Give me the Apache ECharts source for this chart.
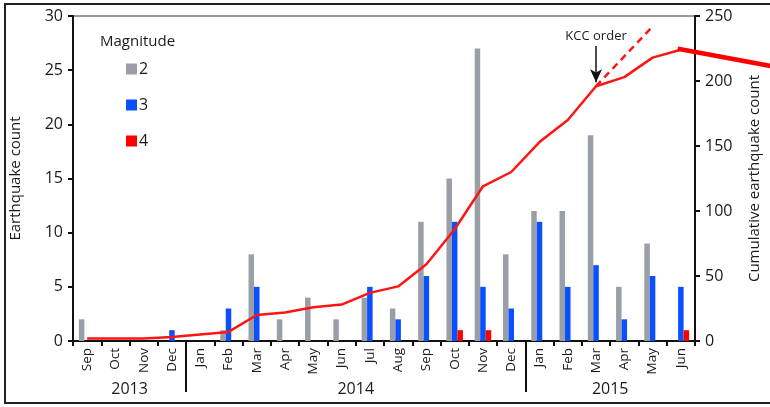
<!DOCTYPE html>
<html>
<head>
<meta charset="utf-8">
<script src="https://cdn.jsdelivr.net/npm/echarts@6/dist/echarts.min.js"></script>
<style>
  html, body { margin: 0; padding: 0; background: #ffffff; }
  #chart { width: 770px; height: 407px; }
</style>
</head>
<body>
<div id="chart"></div>
<script>
// Monthly earthquake counts by magnitude, Sep 2013 - Jun 2015
const months = ['Sep','Oct','Nov','Dec',
  'Jan','Feb','Mar','Apr','May','Jun','Jul','Aug','Sep','Oct','Nov','Dec',
  'Jan','Feb','Mar','Apr','May','Jun'];
const years = ['2013', '2014', '2015'];
const yearCenters = [2, 10, 19];      // middle of each year's month span
const yearBreaks = [4, 16];           // boundaries between years

const mag2 = [2,0,0,0, 0,1,8,2,4,2,4,3,11,15,27,8, 12,12,19,5,9,0];
const mag3 = [0,0,0,1, 0,3,5,0,0,0,5,2,6,11,5,3, 11,5,7,2,6,5];
const mag4 = [0,0,0,0, 0,0,0,0,0,0,0,0,0,1,1,0, 0,0,0,0,0,1];
const cumulative = [2,2,2,3, 5,7,20,22,26,28,37,42,59,86,119,130, 153,170,196,203,218,224];
// projected trend had the rate continued after the order (Mar -> May 2015)
const projected = [null,null,null,null, null,null,null,null,null,null,null,null,null,null,null,null, null,null,196,null,242,null];

const leftTicks = { min: 0, max: 30, interval: 5 };
const rightTicks = { min: 0, max: 250, interval: 50 };

const FONT = 'Open Sans';
const INK = '#1a1a1a';

const chart = echarts.init(document.getElementById('chart'));

const axisLineStyle = { color: '#111', width: 2 };

chart.setOption({
  backgroundColor: '#ffffff',
  textStyle: { fontFamily: FONT, color: INK },
  animation: false,
  title: {
    text: 'Magnitude',
    left: 95, top: 29,
    textStyle: { fontFamily: FONT, fontSize: 15, fontWeight: 'normal', color: INK }
  },
  legend: {
    orient: 'vertical',
    left: 121, top: 56,
    itemWidth: 11, itemHeight: 11, itemGap: 20,
    icon: 'rect',
    textStyle: { fontFamily: FONT, fontSize: 16, color: INK, padding: [0, 0, 0, -3] },
    data: ['2', '3', '4']
  },
  grid: {
    left: 72, right: 67, top: 16, bottom: 66,
    show: true, borderColor: '#333', borderWidth: 1
  },
  xAxis: [
    {
      type: 'category',
      data: months,
      position: 'bottom',
      axisLine: { lineStyle: axisLineStyle },
      axisTick: { show: true, length: 5, lineStyle: { color: '#111', width: 2 } },
      axisLabel: { rotate: 90, fontSize: 13.5, margin: 7, color: INK, interval: 0 }
    },
    {
      type: 'value',
      min: 0, max: months.length,
      position: 'bottom',
      axisLine: { show: false },
      splitLine: { show: false },
      axisTick: {
        show: true, length: 51, customValues: yearBreaks,
        lineStyle: { color: '#111', width: 2 }
      },
      axisLabel: {
        customValues: yearCenters,
        margin: 40, fontSize: 16, color: INK,
        formatter: v => years[yearCenters.indexOf(v)] || ''
      }
    }
  ],
  yAxis: [
    {
      type: 'value',
      min: leftTicks.min, max: leftTicks.max, interval: leftTicks.interval,
      name: 'Earthquake count',
      nameLocation: 'middle', nameGap: 50,
      nameTextStyle: { fontSize: 15, color: INK },
      axisLine: { show: true, lineStyle: axisLineStyle },
      axisTick: { show: true, length: 5, lineStyle: { color: '#111', width: 2 } },
      axisLabel: { fontSize: 16, margin: 10, color: INK },
      splitLine: { show: false }
    },
    {
      type: 'value',
      position: 'right',
      min: rightTicks.min, max: rightTicks.max, interval: rightTicks.interval,
      name: 'Cumulative earthquake count',
      nameLocation: 'middle', nameGap: 52,
      nameTextStyle: { fontSize: 15, color: INK },
      axisLine: { show: true, lineStyle: axisLineStyle },
      axisTick: { show: true, length: 5, lineStyle: { color: '#111', width: 2 } },
      axisLabel: { fontSize: 16, margin: 10, color: INK },
      splitLine: { show: false }
    }
  ],
  series: [
    { name: '2', type: 'bar', data: mag2, barWidth: 5.5, barGap: '0%', itemStyle: { color: '#9a9ea6' } },
    { name: '3', type: 'bar', data: mag3, barWidth: 5.5, barGap: '0%', itemStyle: { color: '#0a50ff' } },
    { name: '4', type: 'bar', data: mag4, barWidth: 5.5, barGap: '0%', itemStyle: { color: '#ff0000' } },
    {
      name: 'cumulative', type: 'line', yAxisIndex: 1, data: cumulative,
      symbol: 'none', z: 5,
      lineStyle: { color: '#ff1414', width: 2.5 },
      markLine: {
        silent: true,
        symbol: ['none', 'arrow'],
        symbolSize: [9, 13],
        lineStyle: { color: '#111', width: 1.5, type: 'solid' },
        label: {
          show: true, position: 'start', distance: 3,
          formatter: 'KCC order', fontSize: 13, color: INK, fontFamily: FONT
        },
        data: [[{ coord: [18, 227] }, { coord: [18, 199] }]]
      }
    },
    {
      name: 'projected', type: 'line', yAxisIndex: 1, data: projected,
      symbol: 'none', connectNulls: true, z: 5,
      lineStyle: { color: '#ff1414', width: 2.5, type: [7, 5] }
    }
  ]
});

// outer frame and the heavy red pointer running off the right edge from the last point
const last = cumulative.length - 1;
const p = chart.convertToPixel({ xAxisIndex: 0, yAxisIndex: 1 }, [last, cumulative[last]]);
chart.setOption({
  graphic: [
    {
      type: 'rect', silent: true, z: 100,
      shape: { x: 5, y: 4, width: 800, height: 399 },
      style: { fill: 'none', stroke: '#222', lineWidth: 2 }
    },
    {
      type: 'line', silent: true, z: 100,
      shape: { x1: p[0] - 3, y1: p[1] - 1, x2: 775, y2: p[1] + 17 },
      style: { stroke: '#ff0000', lineWidth: 4.5 }
    }
  ]
});
</script>
</body>
</html>
